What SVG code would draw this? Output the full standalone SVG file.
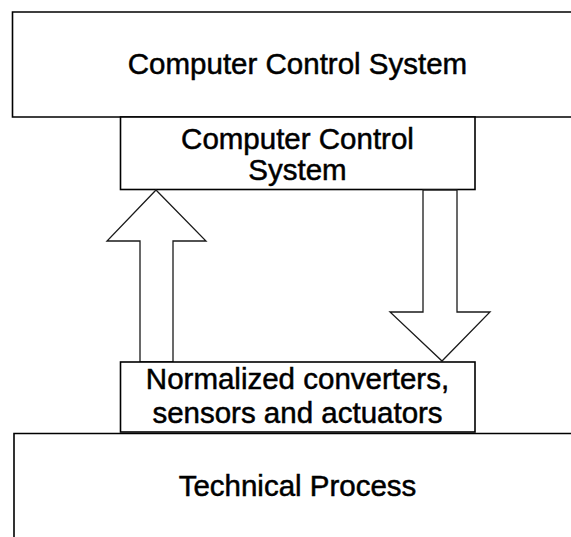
<svg xmlns="http://www.w3.org/2000/svg" width="571" height="537" viewBox="0 0 571 537">
  <style>
    .box { fill: #ffffff; stroke: #000000; stroke-width: 1.6; }
    .edge { fill: none; stroke: #000000; stroke-width: 1.6; }
    .arrow { fill: #ffffff; stroke: #1a1a1a; stroke-width: 1.3; stroke-linejoin: miter; }
    .label { font-family: "Liberation Sans", Arial, sans-serif; font-size: 29.5px; fill: #000000; stroke: #000000; stroke-width: 0.5; text-anchor: middle; }
  </style>
  <rect x="0" y="0" width="571" height="537" fill="#ffffff"/>

  <g id="computer-control-system-outer">
    <polyline class="edge" points="571,12 12.5,12 12.5,117 571,117"/>
    <text class="label" x="297.5" y="74">Computer Control System</text>
  </g>

  <g id="computer-control-system">
    <rect class="box" x="120.5" y="117" width="354.5" height="72.5"/>
    <text class="label" x="297.5" y="149">Computer Control</text>
    <text class="label" x="297.5" y="180">System</text>
  </g>

  <g id="connectors">
    <polygon class="arrow" points="156,190 206,241 173,241 173,362 140,362 140,241 107,241"/>
    <polygon class="arrow" points="423,190 423,312 390,312 442,361 490,312 457,312 457,190"/>
  </g>

  <g id="normalized-converters">
    <rect class="box" x="120.5" y="362" width="354.5" height="70"/>
    <text class="label" x="297.5" y="389">Normalized converters,</text>
    <text class="label" x="297.5" y="423">sensors and actuators</text>
  </g>

  <g id="technical-process">
    <polyline class="edge" points="571,433.5 14,433.5 14,537"/>
    <text class="label" x="297.5" y="496">Technical Process</text>
  </g>
</svg>
